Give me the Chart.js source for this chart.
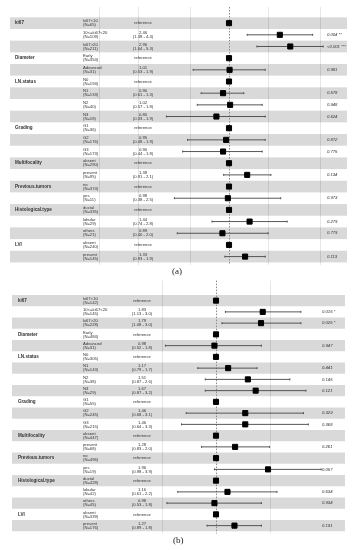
<!DOCTYPE html>
<html>
<head>
<meta charset="utf-8">
<script src="https://cdn.jsdelivr.net/npm/chart.js@4/dist/chart.umd.min.js"></script>
<style>
  body { margin: 0; width: 355px; height: 550px; background: #fff; position: relative; overflow: hidden; }
  canvas { position: absolute; left: 0; }
  .tag { position: absolute; font-family: "Liberation Serif", serif; font-size: 9px; color: #222; }
</style>
</head>
<body>
<canvas id="chartA" width="355" height="270" style="top:0"></canvas>
<div class="tag" style="left:172px;top:266px">(a)</div>
<canvas id="chartB" width="355" height="262" style="top:276px"></canvas>
<div class="tag" style="left:173px;top:535px">(b)</div>
<script>
// rows shared by both panels
const groups = ['ki67', '', '', 'Diameter', '', 'LN.status', '', '', '', 'Grading', '', '',
  'Multifocality', '', 'Previous.tumors', '', 'Histological.type', '', '', 'LVI', ''];
const levels = ['ki67<10', '10<=ki67<20', 'ki67>20', 'Early', 'Advanced', 'N0', 'N1', 'N2', 'N3',
  'G1', 'G2', 'G3', 'absent', 'present', 'no', 'yes', 'ductal', 'lobular', 'others', 'absent', 'present'];

// panel (a)
const countsA = [65, 109, 211, 354, 31, 194, 133, 40, 18, 36, 176, 173, 290, 95, 374, 11, 335, 29, 21, 240, 145];
const hrA = [1, 2.46, 2.96, 1, 1.01, 1, 0.90, 1.02, 0.80, 1, 0.95, 0.90, 1, 1.38, 1, 0.98, 1, 1.44, 0.89, 1, 1.33];
const lowA = [null, 1.38, 1.64, null, 0.53, null, 0.61, 0.57, 0.33, null, 0.48, 0.44, null, 0.91, null, 0.38, null, 0.74, 0.40, null, 0.93];
const highA = [null, 4.4, 5.3, null, 1.9, null, 1.3, 1.8, 1.9, null, 1.9, 1.8, null, 2.1, null, 2.5, null, 2.8, 2.0, null, 1.9];
const pA = ['', '0.004 **', '<0.001 ***', '', '0.981', '', '0.578', '0.948', '0.624', '', '0.872', '0.775',
  '', '0.134', '', '0.973', '', '0.279', '0.779', '', '0.113'];
const gridA = [0.1, 0.2, 0.5, 2, 5];

// panel (b)
const countsB = [142, 145, 228, 484, 31, 305, 143, 38, 29, 55, 245, 215, 447, 68, 496, 19, 428, 42, 45, 339, 176];
const hrB = [1, 1.83, 1.79, 1, 0.98, 1, 1.17, 1.51, 1.67, 1, 1.46, 1.46, 1, 1.28, 1, 1.96, 1, 1.16, 0.98, 1, 1.27];
const lowB = [null, 1.13, 1.08, null, 0.52, null, 0.79, 0.87, 0.87, null, 0.68, 0.64, null, 0.83, null, 0.98, null, 0.61, 0.53, null, 0.89];
const highB = [null, 3.0, 3.0, null, 1.8, null, 1.7, 2.6, 3.2, null, 3.1, 3.3, null, 2.0, null, 3.9, null, 2.2, 1.8, null, 1.8];
const pB = ['', '0.015 *', '0.025 *', '', '0.947', '', '0.441', '0.145', '0.121', '', '0.329', '0.368',
  '', '0.261', '', '0.057', '', '0.634', '0.934', '', '0.191'];
const gridB = [0.5, 2];

const forestPlugin = {
  id: 'forest',
  beforeDatasetsDraw(chart) {
    const f = chart.options.plugins.forest;
    const { ctx, chartArea: a, scales: { x, y } } = chart;
    ctx.save();
    // vertical grid lines
    ctx.strokeStyle = '#e6e6e6';
    ctx.lineWidth = 1;
    f.grid.forEach(v => {
      const px = Math.round(x.getPixelForValue(v)) + 0.5;
      ctx.beginPath(); ctx.moveTo(px, a.top); ctx.lineTo(px, a.bottom); ctx.stroke();
    });
    // alternating row bands
    ctx.fillStyle = 'rgba(0,0,0,0.15)';
    f.hr.forEach((v, i) => {
      if (i % 2 === 0) {
        const t = y.getPixelForValue(i + 0.5), b = y.getPixelForValue(i + 1.5);
        ctx.fillRect(a.left, t, a.right - a.left, b - t);
      }
    });
    // reference line at HR = 1
    const x1 = Math.round(x.getPixelForValue(1)) + 0.5;
    ctx.strokeStyle = '#8a8a8a';
    ctx.setLineDash([1.5, 1.5]);
    ctx.beginPath(); ctx.moveTo(x1, a.top); ctx.lineTo(x1, a.bottom); ctx.stroke();
    ctx.setLineDash([]);
    // confidence intervals
    ctx.strokeStyle = '#444';
    ctx.lineWidth = 0.9;
    f.hr.forEach((v, i) => {
      if (f.low[i] == null) return;
      const cy = y.getPixelForValue(i + 1);
      const l = x.getPixelForValue(f.low[i]), r = x.getPixelForValue(f.high[i]);
      ctx.beginPath();
      ctx.moveTo(l, cy); ctx.lineTo(r, cy);
      ctx.moveTo(l, cy - 1); ctx.lineTo(l, cy + 1);
      ctx.moveTo(r, cy - 1); ctx.lineTo(r, cy + 1);
      ctx.stroke();
    });
    // text columns
    ctx.fillStyle = '#333';
    ctx.textBaseline = 'middle';
    f.hr.forEach((v, i) => {
      const cy = y.getPixelForValue(i + 1);
      if (groups[i]) {
        ctx.font = 'bold 4.6px "Liberation Sans", Arial, sans-serif';
        ctx.textAlign = 'left';
        ctx.fillText(groups[i], x.getPixelForValue(f.tx.vars), cy);
      }
      ctx.font = '4.2px "Liberation Sans", Arial, sans-serif';
      ctx.textAlign = 'left';
      const sx = x.getPixelForValue(f.tx.sub);
      ctx.fillText(levels[i], sx, cy - 2);
      ctx.fillText('(N=' + f.n[i] + ')', sx, cy + 2);
      ctx.textAlign = 'center';
      const ex = x.getPixelForValue(f.tx.est);
      if (f.low[i] == null) {
        ctx.fillText('reference', ex, cy);
      } else {
        ctx.fillText(v.toFixed(2), ex, cy - 2);
        ctx.fillText('(' + f.low[i].toFixed(2) + ' - ' + f.high[i].toFixed(1) + ')', ex, cy + 2);
      }
      if (f.p[i]) {
        ctx.font = 'italic 4.2px "Liberation Sans", Arial, sans-serif';
        ctx.textAlign = 'left';
        ctx.fillText(f.p[i], x.getPixelForValue(f.tx.p), cy);
      }
    });
    ctx.restore();
  }
};

function makeForest(id, hr, low, high, n, p, grid, xr, yr, pad, tx) {
  return new Chart(id, {
    type: 'scatter',
    data: {
      datasets: [{
        data: hr.map((v, i) => ({ x: v, y: i + 1 })),
        backgroundColor: '#000',
        borderColor: '#000',
        pointStyle: 'rect',
        pointRadius: 3.6,
        pointHoverRadius: 3.6
      }]
    },
    options: {
      responsive: false,
      animation: false,
      layout: { padding: pad },
      scales: {
        x: { type: 'logarithmic', min: xr[0], max: xr[1], display: false },
        y: { type: 'linear', min: yr[0], max: yr[1], reverse: true, display: false }
      },
      plugins: {
        legend: { display: false },
        tooltip: { enabled: false },
        forest: { hr, low, high, n, p, grid, tx }
      }
    },
    plugins: [forestPlugin]
  });
}

makeForest('chartA', hrA, lowA, highA, countsA, pA, gridA,
  [0.02067, 8.085], [-0.383, 21.72],
  { left: 10, right: 8, top: 7, bottom: 5 },
  { vars: 0.0226, sub: 0.0753, est: 0.218, p: 5.67 });

makeForest('chartB', hrB, lowB, highB, countsB, pB, gridB,
  [0.07145, 5.305], [-0.78, 21.69],
  { left: 12, right: 10, top: 2, bottom: 2 },
  { vars: 0.0772, sub: 0.179, est: 0.384, p: 3.94 });
</script>
</body>
</html>
